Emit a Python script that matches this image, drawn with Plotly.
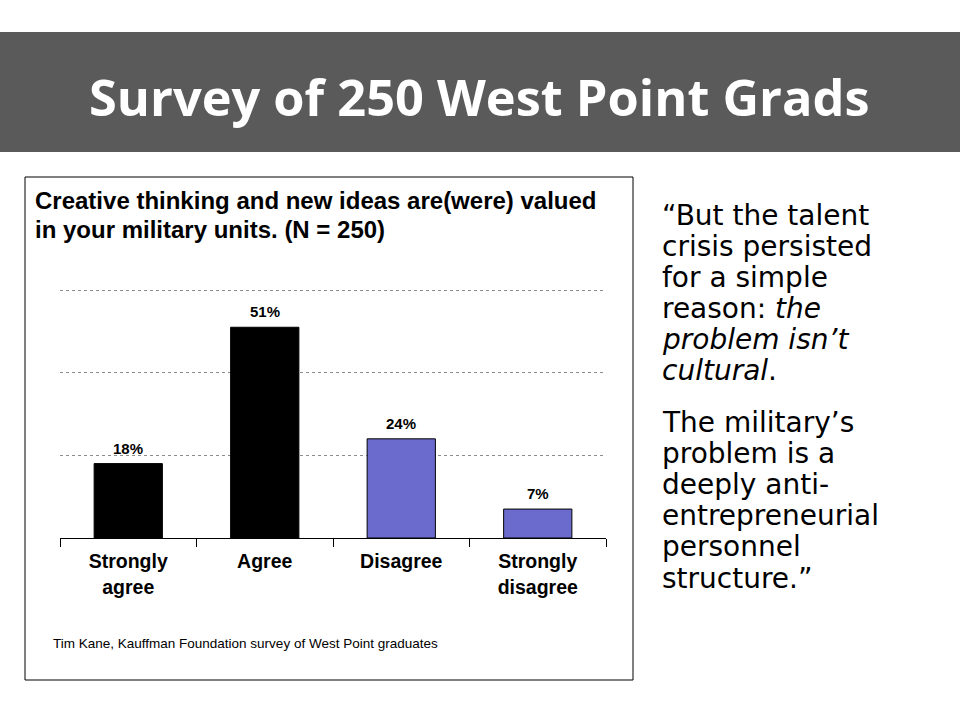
import plotly.graph_objects as go

categories = ["Strongly<br>agree", "Agree", "Disagree", "Strongly<br>disagree"]
values = [18, 51, 24, 7]
bar_colors = ["#000000", "#000000", "#6B6BCE", "#6B6BCE"]
grid_vals = [0, 20, 40, 60]

banner_title = "Survey of 250 West Point Grads"
chart_title_lines = ["Creative thinking and new ideas are(were) valued",
                     "in your military units. (N = 250)"]
source_text = "Tim Kane, Kauffman Foundation survey of West Point graduates"
quote_p1 = ["\u201cBut the talent", "crisis persisted", "for a simple",
            "reason: <i>the</i>", "<i>problem isn\u2019t</i>", "<i>cultural</i>."]
quote_p2 = ["The military\u2019s", "problem is a", "deeply anti-",
            "entrepreneurial", "personnel", "structure.\u201d"]

W, H = 960, 720
def px(x):
    return x / W
def py(y):
    return 1 - y / H

fig = go.Figure()
fig.add_trace(go.Bar(
    x=categories, y=values,
    marker=dict(color=bar_colors, line=dict(color="#000000", width=1)),
    width=0.5, showlegend=False, hoverinfo="skip",
))

annotations = []
for c, v in zip(categories, values):
    annotations.append(dict(x=c, y=v, xref="x", yref="y", text=f"<b>{v}%</b>",
                            showarrow=False, yanchor="bottom", yshift=5,
                            font=dict(family="Liberation Sans, Arial", size=15, color="#000")))
annotations.append(dict(x=px(479), y=py(97), xref="paper", yref="paper",
                        text=f"<b>{banner_title}</b>", showarrow=False,
                        xanchor="center", yanchor="middle",
                        font=dict(family="Open Sans, DejaVu Sans", size=50.5, color="#FFFFFF")))
for i, line in enumerate(chart_title_lines):
    annotations.append(dict(x=px(33), y=py(200 + 30 * i), xref="paper", yref="paper",
                            text=f"<b>{line}</b>", showarrow=False,
                            xanchor="left", yanchor="middle",
                            font=dict(family="Liberation Sans, Arial", size=24, color="#000")))
annotations.append(dict(x=px(51), y=py(643), xref="paper", yref="paper",
                        text=source_text, showarrow=False, xanchor="left", yanchor="middle",
                        font=dict(family="Liberation Sans, Arial", size=13.5, color="#000")))
for i, line in enumerate(quote_p1):
    annotations.append(dict(x=px(660), y=py(215 + 31.2 * i), xref="paper", yref="paper",
                            text=line, showarrow=False, xanchor="left", yanchor="middle",
                            font=dict(family="DejaVu Sans", size=28, color="#000")))
for i, line in enumerate(quote_p2):
    annotations.append(dict(x=px(660), y=py(422 + 31.2 * i), xref="paper", yref="paper",
                            text=line, showarrow=False, xanchor="left", yanchor="middle",
                            font=dict(family="DejaVu Sans", size=28, color="#000")))

shapes = [
    dict(type="rect", xref="paper", yref="paper", x0=0, x1=1, y0=py(152), y1=py(32),
         fillcolor="#5A5A5A", line=dict(width=0), layer="below"),
    dict(type="rect", xref="paper", yref="paper", x0=px(25), x1=px(633), y0=py(680), y1=py(177),
         fillcolor="rgba(0,0,0,0)", line=dict(color="#000000", width=1)),
]

fig.update_layout(
    width=W, height=H,
    margin=dict(l=0, r=0, t=0, b=0),
    paper_bgcolor="#FFFFFF", plot_bgcolor="#FFFFFF",
    xaxis=dict(domain=[px(60), px(606)], showline=True, linecolor="#000", linewidth=1,
               ticks="outside", tickson="boundaries", ticklen=8, tickcolor="#000",
               ticklabelstandoff=6,
               tickvals=categories, ticktext=[f"<b>{c}</b>" for c in categories],
               tickfont=dict(family="Liberation Sans, Arial", size=19.5, color="#000"),
               showgrid=False, fixedrange=True),
    yaxis=dict(domain=[py(538), py(288)], range=[0, 60.5], tickvals=grid_vals,
               showticklabels=False, showgrid=True, gridcolor="#8C8C8C", griddash="dot",
               gridwidth=1, zeroline=True, zerolinecolor="#000", zerolinewidth=1,
               showline=False, fixedrange=True),
    annotations=annotations,
    shapes=shapes,
)

fig.write_html("out.html", config={"displayModeBar": False})
with open("out.html", "r", encoding="utf-8") as f:
    html = f.read()
html = html.replace("<head>", "<head><style>html,body{margin:0;padding:0;overflow:hidden;}</style>", 1)
with open("out.html", "w", encoding="utf-8") as f:
    f.write(html)
